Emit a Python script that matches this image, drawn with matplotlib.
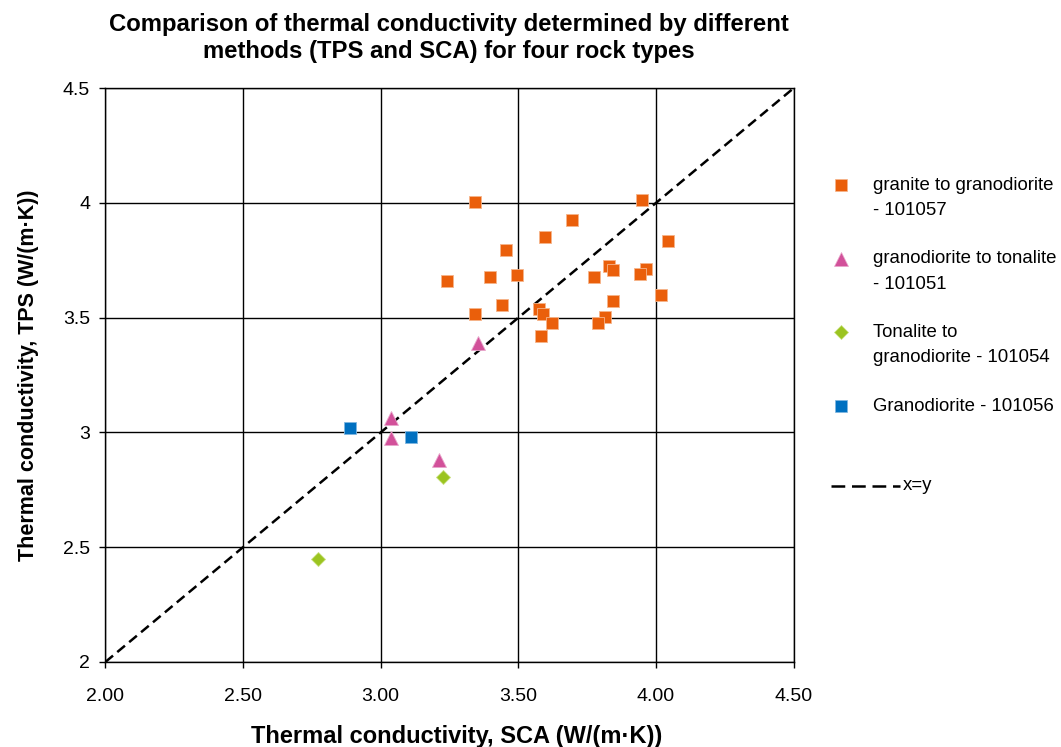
import numpy as np
import matplotlib.pyplot as plt

plt.rcParams['font.family'] = ['Liberation Sans', 'DejaVu Sans']

# granite to granodiorite - 101057
granite_sca = [3.343, 3.950, 3.696, 3.596, 4.044, 3.456, 3.830, 3.844, 3.964, 3.943,
               3.776, 3.396, 3.496, 3.242, 4.017, 3.843, 3.442, 3.576, 3.590, 3.343,
               3.816, 3.623, 3.790, 3.582]
granite_tps = [4.004, 4.012, 3.925, 3.852, 3.836, 3.797, 3.726, 3.708, 3.710, 3.692,
               3.676, 3.676, 3.684, 3.660, 3.597, 3.572, 3.557, 3.540, 3.518, 3.517,
               3.502, 3.477, 3.477, 3.421]
# granodiorite to tonalite - 101051
gt_sca = [3.352, 3.039, 3.039, 3.212]
gt_tps = [3.390, 3.061, 2.974, 2.879]
# Tonalite to granodiorite - 101054
tg_sca = [3.225, 2.771]
tg_tps = [2.807, 2.447]
# Granodiorite - 101056
gd_sca = [2.887, 3.109]
gd_tps = [3.020, 2.980]

xy_line = [2.0, 4.5]

labels = ['granite to granodiorite\n- 101057', 'granodiorite to tonalite\n- 101051',
          'Tonalite to\ngranodiorite - 101054', 'Granodiorite - 101056']
styles = [('s', '#EA5F0B', '#F6B48A', 8.0),
          ('^', '#D2519A', '#E9A6CB', 9.5),
          ('D', '#9BC420', '#C8E07E', 6.8),
          ('s', '#0070C0', '#7FB6E0', 8.0)]
series = [(granite_sca, granite_tps), (gt_sca, gt_tps), (tg_sca, tg_tps), (gd_sca, gd_tps)]

fig = plt.figure(figsize=(10.61, 7.47), dpi=100)
ax = fig.add_axes([0.0993, 0.1138, 0.6487, 0.7682])

ax.grid(True, color='black', lw=1.0)
ax.set_axisbelow(True)

dash = (0, (4, 2.2))
ax.plot(xy_line, xy_line, color='black', lw=1.8, ls=dash, zorder=2)
for (xs, ys), (m, c, ec, ms) in zip(series, styles):
    ax.plot(xs, ys, m, color=c, ms=ms, mec=ec, mew=0.6, zorder=3)

ax.set_xlim(2.0, 4.5)
ax.set_ylim(2.0, 4.5)
ax.set_xticks(np.arange(2.0, 4.51, 0.5))
ax.set_xticklabels(['2.00', '2.50', '3.00', '3.50', '4.00', '4.50'])
ax.set_yticks(np.arange(2.0, 4.51, 0.5))
ax.set_yticklabels(['2', '2.5', '3', '3.5', '4', '4.5'])
ax.tick_params(labelsize=14, direction='out', length=4, width=1, pad=7)
ax.tick_params(axis='x', pad=15)
for s in ax.spines.values():
    s.set_color('black')
    s.set_linewidth(1.0)

ax.set_xlabel('Thermal conductivity, SCA (W/(m·K))', fontsize=17, fontweight='bold', labelpad=14)
ax.xaxis.label.set_x(0.51)
ax.set_ylabel('Thermal conductivity, TPS (W/(m·K))', fontsize=15.5, fontweight='bold', labelpad=17)
fig.suptitle('Comparison of thermal conductivity determined by different\nmethods (TPS and SCA) for four rock types',
             x=0.423, y=0.983, fontsize=17.2, fontweight='bold', linespacing=1.22)

# legend drawn in pixel coordinates on an overlay axes
lax = fig.add_axes([0, 0, 1, 1])
lax.set_xlim(0, 1061)
lax.set_ylim(747, 0)
lax.axis('off')
for i, (lab, (m, c, ec, ms)) in enumerate(zip(labels, styles)):
    y0 = 185 + i * 73.7
    lax.plot([841], [y0], m, color=c, ms=ms, mec=ec, mew=0.5)
    for j, line in enumerate(lab.split('\n')):
        lax.text(873, y0 + j * 25.5, line, fontsize=13.4, va='center', ha='left')
lax.plot([831, 900], [486, 486], color='black', lw=1.8, ls=(0, (5.5, 2.7)))
lax.text(903, 486, 'x=y', fontsize=13.4, va='center', ha='left')

fig.savefig('out.png', dpi=100)
